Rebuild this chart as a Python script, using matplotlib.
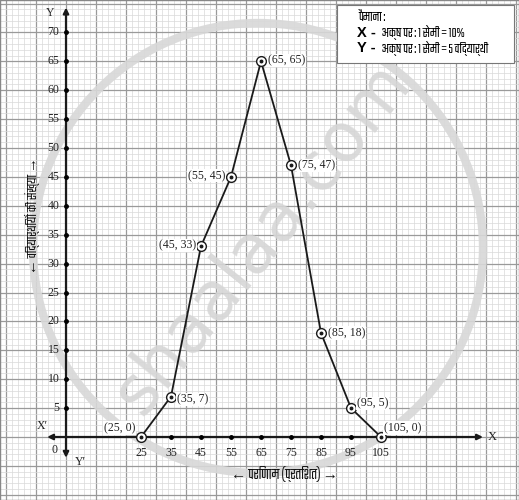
import matplotlib
matplotlib.use("Agg")
import matplotlib.pyplot as plt
from matplotlib import font_manager
from matplotlib.ft2font import FT2Font
from matplotlib.patches import Ellipse, Rectangle
import numpy as np

# ---------------- data ----------------
marks = [25, 35, 45, 55, 65, 75, 85, 95, 105]
students = [0, 7, 33, 45, 65, 47, 18, 5, 0]
x_tick_values = [25, 35, 45, 55, 65, 75, 85, 95, 105]
y_tick_values = [5, 10, 15, 20, 25, 30, 35, 40, 45, 50, 55, 60, 65, 70]
x_label = "\u2190 परिणाम (प्रतिशत) \u2192"
y_label = "\u2190 विद्यार्थियों की संख्या \u2192"
scale_title = "पैमाना :"
scale_x = "अक्ष पर : 1 सेमी = 10%"
scale_y = "अक्ष पर : 1 सेमी = 5 विद्यार्थी"

# label placement (pixel offsets) per point
label_pos = [(-6, 9, 'right'), (6, -3, 'left'), (-5, 1, 'right'), (-6, 1, 'right'),
             (7, 1, 'left'), (7, 0, 'left'), (7, 0, 'left'), (6, 5, 'left'), (3, 9, 'left')]


def deva_candidates():
    names = []
    for f in font_manager.fontManager.ttflist:
        try:
            cm = FT2Font(f.fname).get_charmap()
        except Exception:
            continue
        if 0x092A in cm and 0x0947 in cm and f.name not in names:
            names.append(f.name)
    return names


W, H = 519, 500
fig = plt.figure(figsize=(W / 100, H / 100), dpi=100)
renderer = fig.canvas.get_renderer()

# choose the Devanagari font that renders most compactly
cands = deva_candidates()
best = None
bestw = None
for nm in cands:
    t = fig.text(0, 0, scale_y, fontsize=10, family=[nm, 'DejaVu Sans'])
    w = t.get_window_extent(renderer).width
    t.remove()
    if bestw is None or w < bestw:
        best, bestw = nm, w
sans = [best, 'Liberation Sans', 'DejaVu Sans'] if best else ['Liberation Sans', 'DejaVu Sans']
serif = 'Liberation Serif'

ax = fig.add_axes([0, 0, 1, 1])

X0, XS = 66.0, 3.0
Y0, YS = 437.0, 5.78


def P(px, py):
    return (px - X0) / XS, (Y0 - py) / YS


def fit(t, target, vertical=False, maxsize=11):
    bb = t.get_window_extent(renderer)
    cur = bb.height if vertical else bb.width
    if cur > 0:
        t.set_fontsize(min(maxsize, t.get_fontsize() * target / cur))


xmin, ymax = P(0, 0)
xmax, ymin = P(W, H)
ax.set_xlim(xmin, xmax)
ax.set_ylim(ymin, ymax)
ax.set_xticks([])
ax.set_yticks([])
for s in ax.spines.values():
    s.set_color('#888888')
    s.set_linewidth(1.0)

# graph paper
for xv in np.arange(-20, 152, 2):
    major = (round(xv) % 10 == 0)
    ax.axvline(xv, color='#9a9a9a' if major else '#d9d9d9', lw=0.9 if major else 0.5, zorder=0)
for yv in np.arange(-10, 76, 1):
    major = (round(yv) % 5 == 0)
    ax.axhline(yv, color='#9a9a9a' if major else '#d9d9d9', lw=0.9 if major else 0.5, zorder=0)

# watermark
cx, cy = P(258, 248)
ax.add_patch(Ellipse((cx, cy), 2 * 225 / XS, 2 * 225 / YS, fill=False,
                     ec='#d8d8d8', lw=6, alpha=0.9, zorder=1))
tx, ty = P(262, 238)
ax.text(tx, ty, 'shaalaa.com', fontsize=49, color='#d6d6d6', rotation=51,
        ha='center', va='center', family='DejaVu Sans', zorder=1, alpha=0.9)

# axes with arrows
ax.annotate('', xy=(139, 0), xytext=(-6.3, 0),
            arrowprops=dict(arrowstyle='<|-|>', lw=1.6, color='#1a1a1a', mutation_scale=8,
                            shrinkA=0, shrinkB=0), zorder=3)
ax.annotate('', xy=(0, 74.3), xytext=(0, -3.6),
            arrowprops=dict(arrowstyle='<|-|>', lw=1.6, color='#1a1a1a', mutation_scale=8,
                            shrinkA=0, shrinkB=0), zorder=3)

# tick dots and labels
ax.plot([0] * len(y_tick_values), y_tick_values, 'o', color='k', ms=2.5, zorder=4)
inner = [v for v in x_tick_values if v not in (marks[0], marks[-1])]
ax.plot(inner, [0] * len(inner), 'o', color='k', ms=2.5, zorder=4)
for yv in y_tick_values:
    ax.text(-2.2, yv, str(yv), ha='right', va='center', fontsize=8.5, family=serif,
            color='#222222', zorder=5)
for xv in x_tick_values:
    ax.text(xv, -2.7, str(xv), ha='center', va='center', fontsize=8.5, family=serif,
            color='#222222', zorder=5)

ax.text(*P(55, 450), '0', ha='center', va='center', fontsize=8.5, family=serif, color='#222222')
ax.text(*P(42, 426), "X\u2032", ha='center', va='center', fontsize=8.5, family=serif, color='#222222')
ax.text(*P(492, 437), "X", ha='center', va='center', fontsize=9, family=serif, color='#222222')
ax.text(*P(50, 13), "Y", ha='center', va='center', fontsize=8.5, family=serif, color='#222222')
ax.text(*P(80, 462), "Y\u2032", ha='center', va='center', fontsize=8.5, family=serif, color='#222222')

# data line with markers
ax.plot(marks, students, '-', color='#1a1a1a', lw=1.3, zorder=6)
ax.plot(marks, students, 'o', mfc='white', mec='#1a1a1a', mew=1.0, ms=7, zorder=7)
ax.plot(marks, students, 'o', color='#1a1a1a', ms=1.8, zorder=8)

for (xv, yv), (dx, dy, ha) in zip(zip(marks, students), label_pos):
    ax.annotate(f"({xv}, {yv})", (xv, yv), xytext=(dx * 0.72, dy * 0.72),
                textcoords='offset points', ha=ha, va='center', fontsize=8.5,
                family=serif, color='#222222', zorder=9,
                bbox=dict(boxstyle='square,pad=0.05', fc='white', ec='none'))

# axis titles
t = ax.text(*P(284, 474), x_label, ha='center', va='center', fontsize=9.5, family=sans, color='#111111')
fit(t, 125)
t = ax.text(*P(32, 216), y_label, ha='center', va='center', fontsize=9.5, family=sans,
            rotation=90, color='#111111')
fit(t, 118, vertical=True)

# scale box
bx0, by1 = P(337, 5)
bx1, by0 = P(514, 63)
ax.add_patch(Rectangle((bx0, by0), bx1 - bx0, by1 - by0, fc='white', ec='#777777', lw=0.8, zorder=10))
t = ax.text(*P(358, 17), scale_title, ha='left', va='center', fontsize=8.5, family=sans, zorder=11)
fit(t, 42, maxsize=10)
ax.text(*P(357, 33), "X -", ha='left', va='center', fontsize=10.5, family=['Liberation Sans', 'DejaVu Sans'],
        weight='bold', zorder=11)
t = ax.text(*P(382, 33), scale_x, ha='left', va='center', fontsize=8.5, family=sans, zorder=11)
fit(t, 106, maxsize=10)
ax.text(*P(357, 48), "Y -", ha='left', va='center', fontsize=10.5, family=['Liberation Sans', 'DejaVu Sans'],
        weight='bold', zorder=11)
t = ax.text(*P(382, 48), scale_y, ha='left', va='center', fontsize=8.5, family=sans, zorder=11)
fit(t, 126, maxsize=10)

fig.savefig('out.png', dpi=100)
